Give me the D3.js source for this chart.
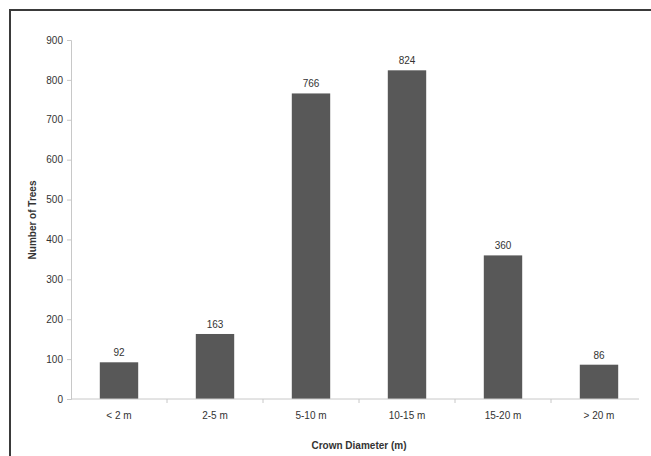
<!DOCTYPE html>
<html><head><meta charset="utf-8">
<script src="https://cdn.jsdelivr.net/npm/d3@7/dist/d3.min.js"></script>
<style>body{margin:0;background:#fff}svg{display:block}</style>
</head><body>
<script>
const categories = ["< 2 m","2-5 m","5-10 m","10-15 m","15-20 m","> 20 m"];
const values = [92,163,766,824,360,86];
const yTicks = [0,100,200,300,400,500,600,700,800,900];

const W=651,H=456;
const svg=d3.select("body").append("svg").attr("width",W).attr("height",H);
svg.append("rect").attr("width",W).attr("height",H).attr("fill","#fff");
// frame (left and top edges)
svg.append("path").attr("d","M10,456V10H651").attr("fill","none").attr("stroke","#3a3a3a").attr("stroke-width",2);

const x=d3.scaleBand().domain(categories).range([71,647]).paddingInner(0.6).paddingOuter(0.3);
const y=d3.scaleLinear().domain([0,900]).range([399,40]);
const font="Arial, 'Liberation Sans', sans-serif";

// y axis
const ya=svg.append("g").attr("transform","translate(71,0)").call(d3.axisLeft(y).tickValues(yTicks).tickSize(4).tickPadding(4));
ya.select(".domain").attr("stroke","#c8c8c8");
ya.selectAll(".tick line").attr("stroke","#c8c8c8");
ya.selectAll("text").attr("font-family",font).attr("font-size",10).attr("fill","#333");

// bars
svg.selectAll("rect.bar").data(values).enter().append("rect").attr("class","bar")
  .attr("x",(d,i)=>x(categories[i])).attr("width",x.bandwidth())
  .attr("y",d=>y(d)).attr("height",d=>y(0)-y(d)).attr("fill","#585858");

// x axis
const step=x.step();
const xa=svg.append("g").attr("transform","translate(0,399)");
xa.append("line").attr("x1",71).attr("x2",639).attr("y1",0).attr("y2",0).attr("stroke","#c8c8c8");
categories.slice(1).forEach((c,i)=>{
  const bx=x(c)-x.paddingInner()*step/2;
  xa.append("line").attr("x1",bx).attr("x2",bx).attr("y1",0).attr("y2",4).attr("stroke","#c8c8c8");
});
xa.selectAll("text").data(categories).enter().append("text")
  .attr("x",d=>x(d)+x.bandwidth()/2).attr("y",20).attr("text-anchor","middle")
  .attr("font-family",font).attr("font-size",10).attr("fill","#333").text(d=>d);

// value labels
svg.selectAll("text.val").data(values).enter().append("text").attr("class","val")
  .attr("x",(d,i)=>x(categories[i])+x.bandwidth()/2).attr("y",d=>y(d)-6)
  .attr("text-anchor","middle").attr("font-family",font).attr("font-size",10).attr("fill","#333").text(d=>d);

// axis titles
svg.append("text").attr("x",359).attr("y",449).attr("text-anchor","middle")
  .attr("font-family",font).attr("font-size",10).attr("font-weight","bold").attr("fill","#333").text("Crown Diameter (m)");
svg.append("text").attr("transform","translate(36,220) rotate(-90)").attr("text-anchor","middle")
  .attr("font-family",font).attr("font-size",10).attr("font-weight","bold").attr("fill","#333").text("Number of Trees");
</script>
</body></html>
